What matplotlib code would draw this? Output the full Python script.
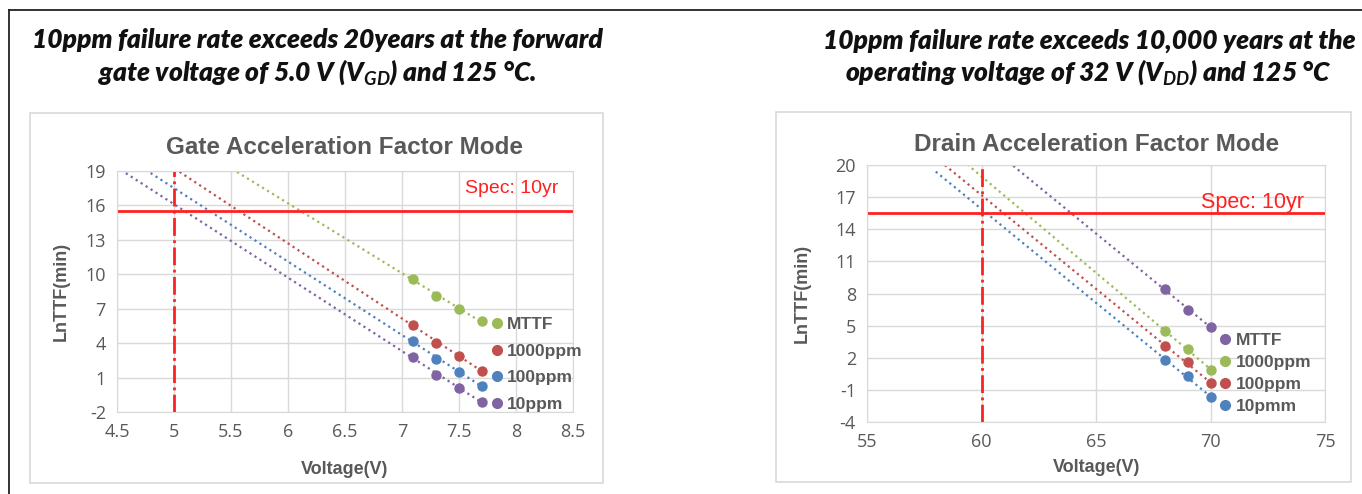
import numpy as np
import matplotlib
matplotlib.use("Agg")
import matplotlib.pyplot as plt
from matplotlib.lines import Line2D
from matplotlib.patches import Rectangle

# gate stress test (forward gate voltage)
gate_v = [7.1, 7.3, 7.5, 7.7]
gate_mttf = [9.6, 8.1, 7.0, 5.9]
gate_1000ppm = [5.6, 4.0, 2.9, 1.6]
gate_100ppm = [4.2, 2.6, 1.5, 0.3]
gate_10ppm = [2.8, 1.2, 0.1, -1.1]

# drain stress test
drain_v = [68, 69, 70]
drain_mttf = [8.4, 6.5, 4.9]
drain_1000ppm = [4.5, 2.8, 0.9]
drain_100ppm = [3.1, 1.6, -0.4]
drain_10ppm = [1.8, 0.3, -1.7]

spec_10yr = np.log(10 * 365 * 24 * 60)   # ln(minutes in 10 years)
gate_use_v = 5.0
drain_use_v = 60

BLUE = '#4F81BD'
RED = '#C0504D'
GREEN = '#9BBB59'
PURPLE = '#8064A2'
GRAY = '#595959'

plt.rcParams['font.family'] = ['Liberation Sans', 'DejaVu Sans']
plt.rcParams['axes.unicode_minus'] = False
plt.rcParams['mathtext.fontset'] = 'custom'
plt.rcParams['mathtext.it'] = 'Lato:italic:bold'
plt.rcParams['mathtext.rm'] = 'Lato:italic:bold'

fig = plt.figure(figsize=(13.62, 4.94), dpi=100)

# outer frame (top and left edge)
fig.add_artist(Line2D([0.0066, 1.0], [0.9798, 0.9798], color='#222222', lw=1.3))
fig.add_artist(Line2D([0.0066, 0.0066], [0.0, 0.9798], color='#222222', lw=1.3))

# chart boxes
fig.add_artist(Rectangle((0.022, 0.0223), 0.4207, 0.749, fill=False, ec='#d9d9d9', lw=1.2))
fig.add_artist(Rectangle((0.5698, 0.0243), 0.4222, 0.749, fill=False, ec='#d9d9d9', lw=1.2))

head = dict(family='Lato', weight='heavy', style='italic', fontsize=19, color='#111111', ha='center')
fig.text(0.233, 0.902, '10ppm failure rate exceeds 20years at the forward', **head)
fig.text(0.233, 0.836, r'gate voltage of 5.0 V (V$_{GD}$) and 125 °C.', **head)
fig.text(0.800, 0.902, '10ppm failure rate exceeds 10,000 years at the', **head)
fig.text(0.799, 0.836, r'operating voltage of 32 V (V$_{DD}$) and 125 °C', **head)


def trend(ax, x, y, color, back):
    k, b = np.polyfit(x, y, 1)
    xs = np.array([x[0] - back, x[-1]])
    ax.plot(xs, k * xs + b, ls=':', lw=1.6, color=color)
    ax.plot(x, y, 'o', ms=6.5, color=color, ls='none')


def style(ax, xpad, ypad):
    ax.grid(True, color='#d9d9d9', lw=1.0)
    ax.set_axisbelow(True)
    for s in ax.spines.values():
        s.set_color('#d9d9d9')
    ax.tick_params(length=0, labelsize=13, labelcolor=GRAY, pad=8)
    for lab in ax.get_xticklabels() + ax.get_yticklabels():
        lab.set_family('Open Sans')
    ax.set_ylabel('LnTTF(min)', fontsize=13, fontweight='bold', color=GRAY, labelpad=ypad)
    ax.set_xlabel('Voltage(V)', fontsize=13, fontweight='bold', color=GRAY, labelpad=xpad)


# gate acceleration chart
ax1 = fig.add_axes([0.0859, 0.166, 0.3348, 0.4878])
ax1.set_xlim(4.5, 8.5)
ax1.set_ylim(-2, 19)
ax1.set_xticks(np.arange(4.5, 8.51, 0.5))
ax1.set_xticklabels(['4.5', '5', '5.5', '6', '6.5', '7', '7.5', '8', '8.5'])
ax1.set_yticks(np.arange(-2, 19.1, 3))
style(ax1, 14, 11)
trend(ax1, gate_v, gate_mttf, GREEN, 3)
trend(ax1, gate_v, gate_1000ppm, RED, 3)
trend(ax1, gate_v, gate_100ppm, BLUE, 3)
trend(ax1, gate_v, gate_10ppm, PURPLE, 3)
ax1.axhline(spec_10yr, color='#ff2020', lw=2)
ax1.axvline(gate_use_v, color='#ff2020', lw=2, ls='-.')
ax1.text(7.55, 17.5, 'Spec: 10yr', color='#ff2020', fontsize=14, va='center')
ax1.set_title('Gate Acceleration Factor Mode', fontsize=17.5, fontweight='bold', color=GRAY, pad=12)
h1 = [Line2D([], [], marker='o', ls='none', ms=7, color=c) for c in (GREEN, RED, BLUE, PURPLE)]
ax1.legend(h1, ['MTTF', '1000ppm', '100ppm', '10ppm'], loc='upper left',
           bbox_to_anchor=(0.8, 0.43), frameon=False, borderpad=0, handlelength=0.7,
           handletextpad=0.25, labelspacing=0.66, prop=dict(size=12.5, weight='bold'),
           labelcolor=GRAY)

# drain acceleration chart
ax2 = fig.add_axes([0.6366, 0.1457, 0.3363, 0.5202])
ax2.set_xlim(55, 75)
ax2.set_ylim(-4, 20)
ax2.set_xticks(np.arange(55, 76, 5))
ax2.set_yticks(np.arange(-4, 20.1, 3))
style(ax2, 6, 18)
trend(ax2, drain_v, drain_mttf, PURPLE, 10)
trend(ax2, drain_v, drain_1000ppm, GREEN, 10)
trend(ax2, drain_v, drain_100ppm, RED, 10)
trend(ax2, drain_v, drain_10ppm, BLUE, 10)
ax2.axhline(spec_10yr, color='#ff2020', lw=2)
ax2.axvline(drain_use_v, color='#ff2020', lw=2, ls='-.')
ax2.text(69.6, 16.5, 'Spec: 10yr', color='#ff2020', fontsize=15.5, va='center')
ax2.set_title('Drain Acceleration Factor Mode', fontsize=17.5, fontweight='bold', color=GRAY, pad=10)
h2 = [Line2D([], [], marker='o', ls='none', ms=7, color=c) for c in (PURPLE, GREEN, RED, BLUE)]
ax2.legend(h2, ['MTTF', '1000ppm', '100ppm', '10pmm'], loc='upper left',
           bbox_to_anchor=(0.75, 0.38), frameon=False, borderpad=0, handlelength=0.7,
           handletextpad=0.25, labelspacing=0.4, prop=dict(size=12.5, weight='bold'),
           labelcolor=GRAY)

fig.savefig('out.png', dpi=100)
